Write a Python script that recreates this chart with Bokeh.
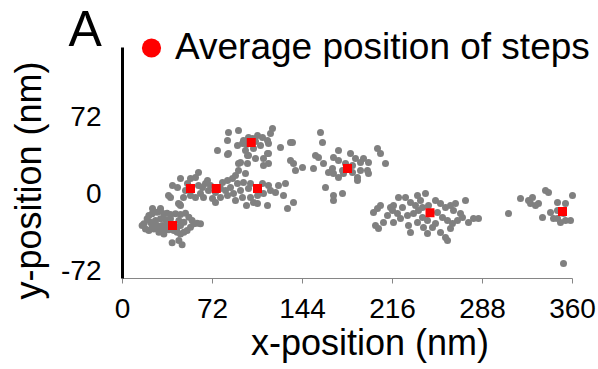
from bokeh.plotting import figure
from bokeh.models import Range1d, FixedTicker, Label, Legend, LegendItem
from bokeh.embed import file_html
from bokeh.resources import INLINE
import math

# ---------------- data ----------------
x_ticks = [0, 72, 144, 216, 288, 360]
y_ticks = [-72, 0, 72]
y_tick_labels = ["-72", "0", "72"]
x_axis_bounds = (0, 360)
y_axis_bounds = (-80, 137.4)

# step 1 cluster
x_s1 = [17.1, 19.7, 21.1, 23.7, 27.7, 30.4, 33.1, 35.7, 38.4, 42.4, 46.4, 50.4, 53.1,
        55.7, 57.1, 54.4, 51.7, 49.1, 46.4, 43.7, 41.1, 37.1, 33.1, 29.1, 25.1, 21.1,
        18.4, 15.7, 22.4, 26.4, 30.4, 34.4, 38.4, 45.1, 49.1, 46.4, 43.7, 35.7, 31.7,
        27.7, 23.7, 62.4, 59.7, 39.7, 45.1, 47.7, 45.9, 33.1, 29.1]
y_s1 = [-28.5, -23.8, -20.7, -19.1, -17.6, -16.6, -19.1, -18.5, -19.8, -19.1, -19.8,
        -18.5, -22.3, -25.4, -28.5, -31.7, -34.8, -36.4, -38.0, -36.4, -34.8, -34.2,
        -34.8, -34.2, -33.3, -34.8, -33.3, -30.1, -27.0, -25.4, -23.8, -24.8, -23.8,
        -25.4, -27.0, -30.1, -31.7, -30.1, -30.1, -30.1, -30.1, -28.5, -27.9, -46.4,
        -44.2, -48.3, -10.4, -38.0, -36.4]

# steps 2-4 band
x_s2 = [38.4, 46.4, 60.8, 58.4, 54.4, 46.4, 40.0, 44.0, 36.8, 44.8, 48.8, 58.4, 62.4,
        64.0, 66.4, 68.8, 72.0, 74.4, 78.4, 68.0, 80.0, 24.0, 30.4, 84.0, 86.4, 92.0,
        96.8, 102.4, 100.8, 94.4, 88.8, 84.0, 96.0, 102.4, 108.0, 112.8, 118.4, 122.4,
        112.0, 116.8, 130.4, 132.0, 116.0, 108.0, 104.8, 136.8, 50.4, 54.4, 60.8, 70.4,
        74.4, 82.4, 90.4, 99.2, 88.0, 92.8, 98.4, 90.4, 84.0, 100.0, 112.8, 116.8, 92.8,
        116.0, 52.0, 78.4, 64.8, 108.8, 124.8, 128.8]
y_s2 = [-3.8, -11.3, 19.8, 15.1, 14.1, 14.1, 7.5, 5.6, -1.9, -9.4, -3.8, -3.8, 0.0,
        5.6, 9.4, 2.8, -4.7, -8.5, -3.8, 12.2, 10.4, -14.1, -14.1, 12.2, 5.6, 9.4,
        10.4, 9.4, 4.7, 2.8, 0.0, -1.9, -3.8, -3.8, -1.9, 0.0, 2.8, 0.9, 9.4, 7.5, 9.4,
        -14.1, -11.3, -9.4, -8.5, -8.5, 2.8, -1.9, 7.5, 7.5, 0.9, 2.8, -6.6, -11.3,
        14.1, 21.6, 18.8, 16.9, 36.7, 35.8, 26.3, 28.2, 28.2, 37.6, 9.4, 4.7, -3.8,
        4.7, 7.5, -1.9]

# step 5 (upper) cluster
x_s5 = [84.8, 92.8, 120.0, 118.4, 84.0, 76.0, 84.8, 92.0, 96.8, 100.8, 108.0, 112.0,
        110.4, 116.0, 116.8, 126.4, 98.4, 104.8, 100.8, 106.4, 112.8, 116.8, 134.4,
        94.4, 100.0, 96.0, 104.0, 99.2, 106.4]
y_s5 = [57.4, 59.3, 61.2, 56.5, 49.9, 40.5, 37.6, 45.2, 49.9, 52.7, 54.6, 52.7, 45.2,
        49.9, 47.1, 43.3, 40.5, 42.3, 35.8, 32.9, 32.9, 37.6, 48.0, 29.2, 28.2, 47.1,
        51.8, 46.1, 48.9]

# step 6 cluster
x_s6 = [158.4, 160.0, 136.0, 134.4, 136.8, 138.4, 144.0, 152.8, 154.4, 156.8, 160.8,
        162.4, 168.8, 172.8, 182.4, 186.4, 190.4, 192.8, 196.8, 204.0, 206.4, 210.4,
        164.8, 168.8, 172.8, 176.8, 184.0, 188.0, 188.0, 190.4, 196.0, 196.8, 176.0,
        172.8, 168.0, 178.4, 184.0, 168.8, 168.8, 176.0]
y_s6 = [57.4, 48.0, 48.0, 31.1, 28.2, 21.6, 24.5, 23.5, 35.8, 33.9, 28.2, 5.6, 33.9,
        40.5, 37.6, 32.9, 29.2, 32.9, 29.2, 42.3, 37.6, 28.2, 19.8, 18.8, 15.1, 18.8,
        19.8, 15.1, 12.2, 21.6, 21.6, 18.8, 21.6, 31.1, 23.5, 28.2, 26.3, -1.9, -6.6,
        0.0]

# step 7 cluster
x_s7 = [200.8, 204.0, 206.4, 202.4, 204.8, 208.8, 214.4, 216.8, 220.8, 226.4, 236.0,
        242.4, 230.4, 224.0, 220.0, 222.4, 228.0, 232.8, 236.8, 240.0, 228.8, 230.4,
        236.0, 240.8, 244.0, 248.0, 250.4, 254.4, 258.4, 262.4, 264.8, 270.4, 274.4,
        252.0, 256.0, 260.0, 264.0, 268.0, 272.0, 276.8, 280.8, 284.8, 254.4, 258.4,
        260.0, 262.4, 250.4, 244.0, 240.0, 216.0, 212.0, 216.8, 234.4, 244.8, 238.4,
        266.4]
y_s7 = [-17.9, -14.1, -11.3, -30.1, -32.9, -27.3, -13.2, -11.3, -3.8, -3.8, -1.9, 0.0,
        -8.5, -13.2, -18.8, -23.5, -20.7, -18.8, -16.0, -13.2, -30.1, -36.7, -27.3,
        -32.0, -37.6, -32.0, -6.6, -9.4, -13.2, -11.3, -16.0, -18.8, -6.6, -17.9,
        -22.6, -25.4, -28.2, -25.4, -22.6, -27.3, -23.5, -23.5, -36.7, -41.4, -44.2,
        -32.9, -28.2, -25.4, -22.6, -16.0, -20.7, -27.3, -11.3, -11.3, -6.6, -9.4]

# step 8 cluster
x_s8 = [308.8, 318.4, 324.8, 328.0, 326.4, 330.4, 332.8, 338.4, 340.8, 360.0, 348.0,
        354.4, 342.4, 336.0, 348.0, 348.0, 350.4, 354.4, 358.4, 344.8, 352.8, 352.8]
y_s8 = [-18.8, -4.7, -6.6, -3.8, -9.4, -11.3, -9.4, 2.8, 0.9, -1.9, -8.5, -9.4, -17.9,
        -22.6, -16.0, -23.5, -27.3, -25.4, -25.4, -23.5, -18.8, -65.9]

# average position of each step
x_avg = [40.0, 54.4, 75.0, 108.0, 103.0, 180.0, 246.0, 352.0]
y_avg = [-30.0, 4.7, 4.7, 4.7, 48.0, 23.5, -18.0, -17.0]

legend_label = "Average position of steps"
panel_letter = "A"
x_title = "x-position (nm)"
y_title = "y-position (nm)"

# ---------------- figure ----------------
# The frame covers the whole canvas; the axes sit at fixed data locations
# and are limited by bounds, so that all texts can live inside the frame.
W, H = 598, 369
p = figure(width=W, height=H, output_backend="svg", toolbar_location=None,
           x_range=Range1d(-97.6, 380.8), y_range=Range1d(-165.6, 181.6),
           min_border_left=0, min_border_right=0, min_border_top=0,
           min_border_bottom=0)
p.outline_line_color = None
p.background_fill_color = "white"
p.border_fill_color = "white"
p.xgrid.visible = False
p.ygrid.visible = False

xs = x_s1 + x_s2 + x_s5 + x_s6 + x_s7 + x_s8
ys = y_s1 + y_s2 + y_s5 + y_s6 + y_s7 + y_s8
p.scatter(x=xs, y=ys, marker="circle", size=7, fill_color="#808080",
          line_color=None)
p.scatter(x=x_avg, y=y_avg, marker="square", size=9, fill_color="#ff0000",
          line_color=None)

# legend marker: a hidden red-circle version of the averages (reference legend
# shows a circle)
r_leg = p.scatter(x=x_avg, y=y_avg, marker="circle", fill_color="#ff0000",
                  line_color=None, visible=False)
legend = Legend(items=[LegendItem(label=legend_label, renderers=[r_leg])],
                location=(127, 294.5), orientation="vertical",
                glyph_width=48, glyph_height=55, label_standoff=0,
                padding=0, margin=0, spacing=0,
                border_line_color=None, background_fill_alpha=0,
                inactive_fill_alpha=0, click_policy="none",
                label_text_font="Liberation Sans", label_text_font_size="37px",
                label_text_color="black")
p.add_layout(legend, "center")

# axes
xa = p.xaxis[0]
xa.fixed_location = y_axis_bounds[0]
xa.bounds = x_axis_bounds
xa.ticker = FixedTicker(ticks=x_ticks)
xa.axis_line_color = "#868686"
xa.axis_line_width = 1
xa.major_tick_line_color = "#868686"
xa.major_tick_in = 0
xa.major_tick_out = 5
xa.minor_tick_line_color = None
xa.major_label_text_font = "Liberation Sans"
xa.major_label_text_font_size = "28px"
xa.major_label_text_color = "black"
xa.major_label_standoff = 15

ya = p.yaxis[0]
ya.fixed_location = x_axis_bounds[0]
ya.bounds = y_axis_bounds
ya.ticker = FixedTicker(ticks=y_ticks)
ya.major_label_overrides = {t: s for t, s in zip(y_ticks, y_tick_labels)}
ya.axis_line_color = "black"
ya.axis_line_width = 3
ya.major_tick_line_color = None
ya.minor_tick_line_color = None
ya.major_label_text_font = "Liberation Sans"
ya.major_label_text_font_size = "28px"
ya.major_label_text_color = "black"
ya.major_label_standoff = 15

# titles and panel letter (screen units inside the frame = canvas)
p.add_layout(Label(x=369.5, y=27, x_units="screen", y_units="screen", text=x_title,
                   text_font="Liberation Sans", text_font_size="36px",
                   text_align="center", text_baseline="middle",
                   text_color="black"))
p.add_layout(Label(x=28, y=189, x_units="screen", y_units="screen", text=y_title,
                   angle=math.pi / 2, text_font="Liberation Sans",
                   text_font_size="36px", text_align="center",
                   text_baseline="middle", text_color="black"))
p.add_layout(Label(x=68, y=341, x_units="screen", y_units="screen", text=panel_letter,
                   text_font="Liberation Sans", text_font_size="50px",
                   text_align="left", text_baseline="middle",
                   text_color="black"))

open("out.html", "w").write(file_html(p, INLINE))
